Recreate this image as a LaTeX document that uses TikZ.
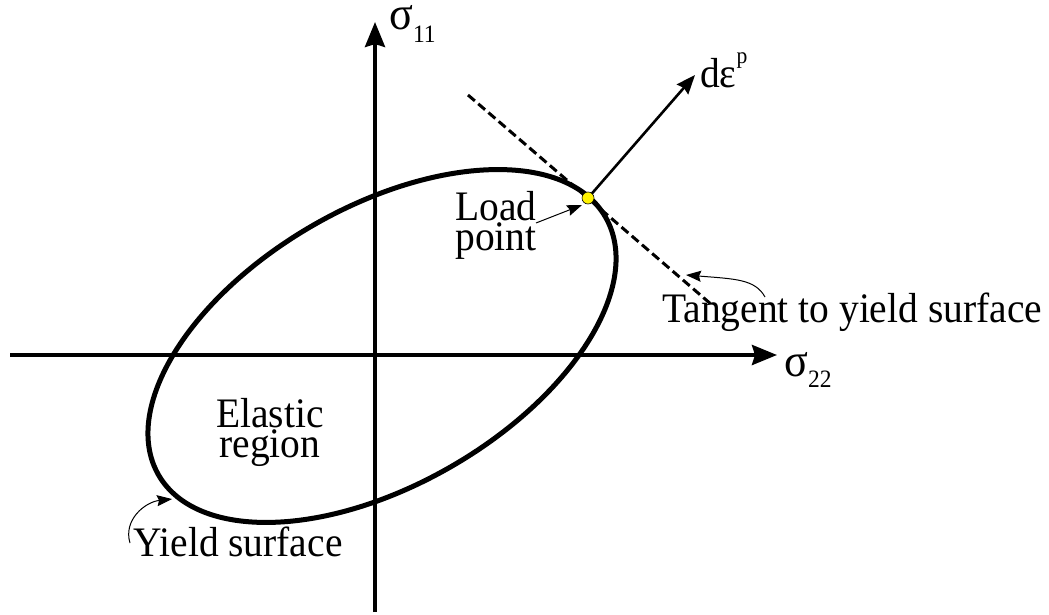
\documentclass[tikz,border=0pt]{standalone}
\usepackage{fontspec}
\setmainfont{Liberation Serif}[FakeStretch=0.94]
\usetikzlibrary{arrows.meta}
\begin{document}
\begin{tikzpicture}[x=1pt,y=-1pt,
  axis/.style={line width=4pt,-{Stealth[length=25pt,width=20pt,inset=3pt]}},
  curveline/.style={line width=5pt},
  tangentline/.style={line width=3pt,dash pattern=on 9pt off 4.5pt},
  flow/.style={line width=2.6pt,-{Stealth[length=19pt,width=15pt,inset=2pt]}},
  leader/.style={line width=1pt,-{Stealth[length=15pt,width=11pt,inset=2pt]}},
  lbl/.style={font=\fontsize{42}{30}\selectfont, inner sep=0pt},
  greek/.style={font=\fontsize{47}{47}\selectfont, inner sep=0pt},
  loadpt/.style={circle, fill=yellow, draw=black, line width=0.6pt, minimum size=12pt, inner sep=0pt}
]
\useasboundingbox (0,0) rectangle (1049,615);

% ellipse (yield surface)
\coordinate (E) at (382,346);
\draw[curveline, rotate around={30:(E)}] (E) ellipse [x radius=258pt, y radius=139pt];

% axes
\coordinate (hs) at (10,355);
\coordinate (he) at (777,355);
\coordinate (vs) at (375,612);
\coordinate (ve) at (375,22);
\draw[axis] (hs) -- (he);
\draw[axis] (vs) -- (ve);

% tangent line
\coordinate (T1) at (468,95);
\coordinate (T2) at (712,305);
\draw[tangentline] (T1) -- (T2);

% plastic strain increment
\coordinate (P) at (588,198);
\coordinate (DE) at (695,75);
\draw[flow] (P) -- (DE);
\node[loadpt] (LP) at (P) {};

% labels
\node[greek, anchor=base west] (s11) at (389,30) {σ\raisebox{-13pt}{\fontsize{25}{25}\selectfont 11}};
\node[greek, anchor=base west] (s22) at (784,376) {σ\raisebox{-11pt}{\fontsize{25}{25}\selectfont 22}};
\node[lbl, anchor=base west] (de) at (700,88) {dε\raisebox{24pt}{\fontsize{23}{23}\selectfont p}};
\node[lbl, anchor=base west] (tg) at (662,322) {Tangent to yield surface};
\node[lbl, anchor=base west] (ys) at (133,556) {Yield surface};
\node[lbl, align=center] (lpt) at (496,225) {Load\\point};
\node[lbl, align=center] (er) at (270,432) {Elastic\\region};

% leaders
\coordinate (lpa) at (536,223);
\coordinate (lpb) at (582,205);
\draw[leader] (lpa) -- (lpb);
\coordinate (tga) at (765,297);
\coordinate (tgb) at (686,275);
\draw[leader] (tga) .. controls (755,279) and (735,279) .. (tgb);
\coordinate (ysa) at (130,543);
\coordinate (ysb) at (172,499);
\draw[leader] (ysa) .. controls (123,520) and (145,502) .. (ysb);
\end{tikzpicture}
\end{document}
